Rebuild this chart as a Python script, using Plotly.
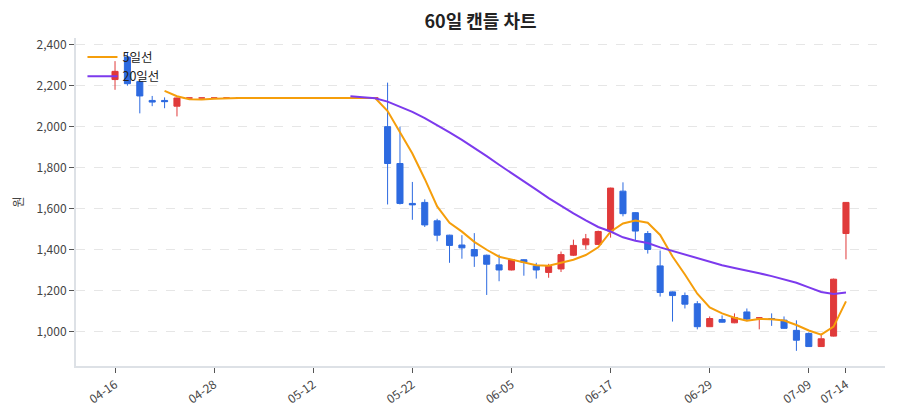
import plotly.graph_objects as go
import pandas as pd

dates = [
    "04-16", "04-17", "04-18", "04-21", "04-22", "04-23", "04-24", "04-25", "04-28", "04-29",
    "04-30", "05-02", "05-06", "05-07", "05-08", "05-09", "05-12", "05-13", "05-14", "05-15",
    "05-16", "05-19", "05-20", "05-21", "05-22", "05-23", "05-26", "05-27", "05-28", "05-29",
    "05-30", "06-02", "06-05", "06-09", "06-10", "06-11", "06-12", "06-13", "06-15", "06-16",
    "06-17", "06-18", "06-19", "06-20", "06-23", "06-24", "06-25", "06-26", "06-29", "06-30",
    "07-01", "07-02", "07-03", "07-04", "07-07", "07-08", "07-09", "07-10", "07-11", "07-14",
]

opens = [
    2230, 2340, 2220, 2128, 2128, 2100, 2140, 2140, 2140, 2140,
    2140, 2140, 2140, 2140, 2140, 2140, 2140, 2140, 2140, 2140,
    2140, 2140, 2000, 1820, 1625, 1630, 1540, 1470, 1422, 1400,
    1372, 1325, 1300, 1350, 1320, 1288, 1305, 1372, 1423, 1425,
    1490, 1685, 1580, 1478, 1320, 1193, 1175, 1135, 1023, 1058,
    1042, 1095, 1066, 1063, 1055, 1005, 990, 926, 977, 1478,
]
highs = [
    2320, 2360, 2225, 2150, 2143, 2142, 2140, 2140, 2140, 2140,
    2140, 2140, 2140, 2140, 2140, 2140, 2140, 2140, 2140, 2140,
    2140, 2140, 2215, 2000, 1730, 1645, 1550, 1472, 1470, 1480,
    1375, 1375, 1352, 1352, 1335, 1330, 1390, 1448, 1476, 1492,
    1702, 1728, 1582, 1490, 1395, 1195, 1190, 1148, 1073, 1078,
    1088, 1112, 1068, 1088, 1073, 1054, 995, 990, 1258, 1632,
]
lows = [
    2180, 2200, 2065, 2100, 2090, 2050, 2140, 2140, 2140, 2140,
    2140, 2140, 2140, 2140, 2140, 2140, 2140, 2140, 2140, 2140,
    2140, 2140, 1620, 1620, 1545, 1510, 1440, 1335, 1355, 1315,
    1178, 1245, 1298, 1272, 1258, 1262, 1290, 1368, 1400, 1422,
    1458, 1562, 1445, 1380, 1170, 1048, 1112, 1010, 1022, 1043,
    1040, 1050, 1010, 1027, 1013, 905, 925, 925, 975, 1352,
]
closes = [
    2270, 2210, 2150, 2120, 2122, 2140, 2140, 2140, 2140, 2140,
    2140, 2140, 2140, 2140, 2140, 2140, 2140, 2140, 2140, 2140,
    2140, 2140, 1820, 1625, 1618, 1520, 1470, 1420, 1408, 1368,
    1328, 1300, 1350, 1338, 1300, 1318, 1375, 1420, 1452, 1488,
    1700, 1575, 1490, 1400, 1190, 1175, 1133, 1023, 1063, 1045,
    1068, 1060, 1066, 1058, 1015, 957, 926, 964, 1255, 1630,
]

tick_labels = ["04-16", "04-28", "05-12", "05-22", "06-05", "06-17", "06-29", "07-09", "07-14"]
y_ticks = [1000, 1200, 1400, 1600, 1800, 2000, 2200, 2400]

s = pd.Series(closes, dtype=float)
ma5 = s.rolling(5).mean()
ma20 = s.rolling(20).mean()

RED = "#e03a3a"
BLUE = "#2d6ae0"

fig = go.Figure()
fig.add_trace(go.Candlestick(
    x=dates, open=opens, high=highs, low=lows, close=closes,
    increasing=dict(line=dict(color=RED, width=1), fillcolor=RED),
    decreasing=dict(line=dict(color=BLUE, width=1), fillcolor=BLUE),
    showlegend=False, name="캔들",
))
fig.add_trace(go.Scatter(x=dates, y=ma5, mode="lines", name="5일선",
                         line=dict(color="#f59e0b", width=2)))
fig.add_trace(go.Scatter(x=dates, y=ma20, mode="lines", name="20일선",
                         line=dict(color="#7c3aed", width=2)))

fig.update_layout(
    width=900, height=420,
    margin=dict(l=76, r=15, t=38, b=54),
    paper_bgcolor="white", plot_bgcolor="white",
    font=dict(family="Noto Sans CJK KR, Noto Sans, sans-serif", size=12, color="#333"),
    title=dict(text="<b>60일 캔들 차트</b>", x=0.5, xref="paper", y=0.948, yanchor="middle",
               font=dict(size=18, color="#222")),
    legend=dict(x=0.008, y=0.987, xanchor="left", yanchor="top", bgcolor="rgba(0,0,0,0)",
                font=dict(size=12.5, color="#222"), tracegroupgap=0),
    xaxis=dict(
        type="category", range=[-3.15, 62.15], rangeslider=dict(visible=False),
        tickmode="array", tickvals=tick_labels, ticktext=tick_labels,
        tickangle=-35, ticks="outside", ticklen=5, tickcolor="#555",
        showgrid=False, showline=True, linecolor="#dde1e6", linewidth=2,
        tickfont=dict(size=12, color="#444"),
    ),
    yaxis=dict(
        range=[831, 2433], tickvals=y_ticks, tickformat=",",
        ticks="outside", ticklen=5, tickcolor="#555",
        showgrid=True, gridcolor="#e6e6e6", griddash="dash",
        showline=True, linecolor="#dde1e6", linewidth=2, zeroline=False,
        title=dict(text="원", font=dict(size=12, color="#444"), standoff=10),
        tickfont=dict(size=12, color="#444"),
    ),
)

fig.write_html("out.html")
